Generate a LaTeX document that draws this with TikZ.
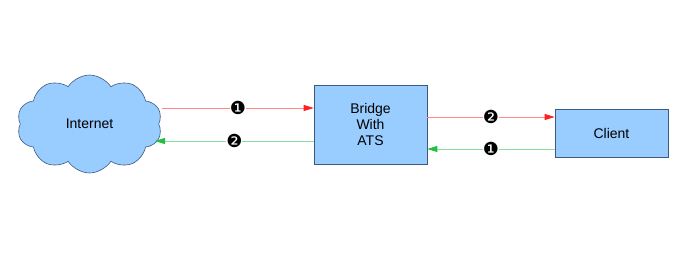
\documentclass[tikz,border=0pt]{standalone}
\usepackage{fontspec}
\setmainfont{Liberation Sans}
\newfontfamily\djv{DejaVu Sans}
\usetikzlibrary{shapes.symbols,arrows.meta}
\definecolor{boxfill}{HTML}{99CCFF}
\definecolor{boxline}{HTML}{3C5A80}
\definecolor{redline}{HTML}{FF8888}
\definecolor{redhead}{HTML}{FF2020}
\definecolor{grnline}{HTML}{88E0A0}
\definecolor{grnhead}{HTML}{20C040}
\tikzset{
  blk/.style={draw=boxline,fill=boxfill,line width=0.6pt,align=center,font=\fontsize{14}{16}\selectfont,inner sep=0pt},
  reqarrow/.style={draw=redline,line width=0.9pt,-{Triangle[length=10pt,width=6pt,fill=redhead,color=redhead]}},
  resarrow/.style={draw=grnline,line width=0.9pt,-{Triangle[length=10pt,width=6pt,fill=grnhead,color=grnhead]}},
  num/.style={font=\djv\fontsize{18}{18}\selectfont,inner sep=0pt,fill=white}
}
\begin{document}
\begin{tikzpicture}[x=1pt,y=-1pt]
\useasboundingbox (0,0) rectangle (689,255);
\node[blk,cloud,cloud puffs=10,cloud puff arc=115,aspect=1.5,minimum width=145pt,minimum height=98pt] (inet) at (89.5,124) {Internet};
\node[blk,minimum width=113pt,minimum height=79pt] (bridge) at (370.5,124.5) {Bridge\\With\\ATS};
\node[blk,minimum width=113pt,minimum height=48pt] (client) at (611.5,133) {Client};
\coordinate (a1) at (162,108);
\coordinate (a2) at (155,141);
\draw[reqarrow] (a1) -- (bridge.west |- a1) node[num,pos=0.5] {❶};
\draw[resarrow] (bridge.west |- a2) -- (a2) node[num,pos=0.5] {❷};
\draw[reqarrow] (bridge.east |- 0,117) -- (client.west |- 0,117) node[num,pos=0.5] {❷};
\draw[resarrow] (client.west |- 0,149) -- (bridge.east |- 0,149) node[num,pos=0.5] {❶};
\end{tikzpicture}
\end{document}
